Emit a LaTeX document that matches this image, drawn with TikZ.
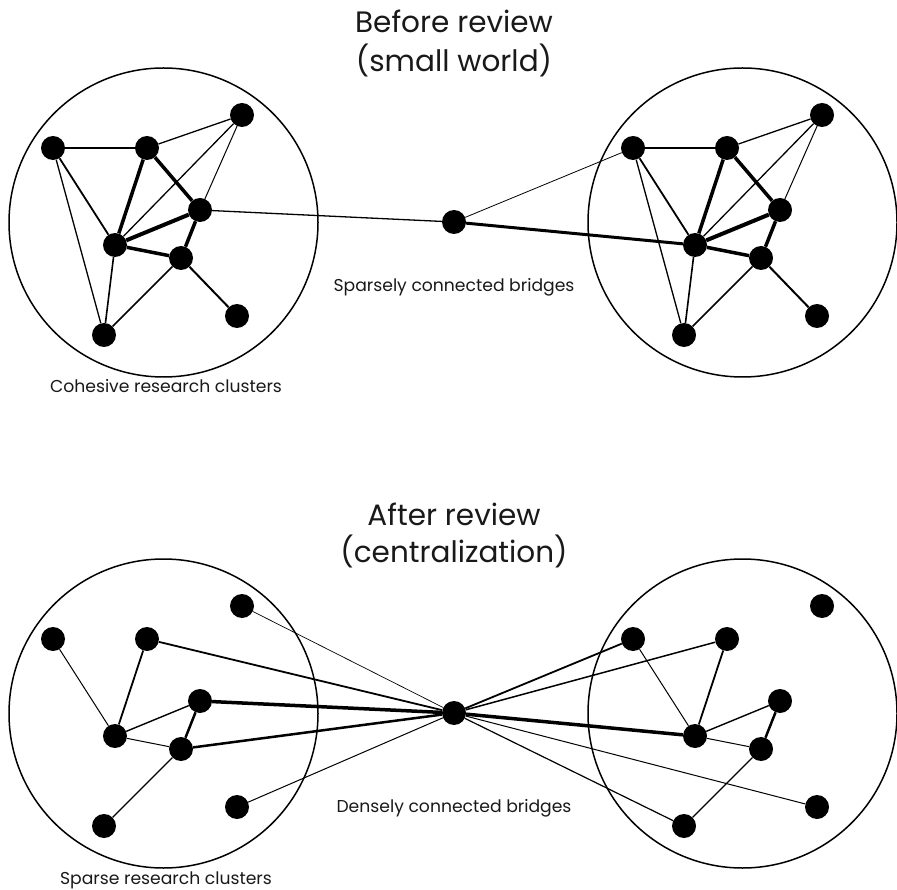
\documentclass[tikz,border=0pt]{standalone}
\usepackage{fontspec}
\setmainfont{Poppins}
\begin{document}
\begin{tikzpicture}[x=1pt,y=-1pt,
  dot/.style={circle,fill=black,inner sep=0pt,minimum size=24pt},
  ring/.style={circle,draw,line width=1.5pt,inner sep=0pt,minimum size=309pt},
  title/.style={anchor=base,text=black!90,font=\fontsize{29.5}{34}\selectfont},
  caption/.style={anchor=base,text=black!90,font=\fontsize{17.2}{21}\selectfont}]
\useasboundingbox (0,0) rectangle (897,890);

% the four cluster outlines
\node[ring] (TLring) at (163.5,222.5) {};
\node[ring] (TRring) at (742.5,222.5) {};
\node[ring] (BLring) at (163.5,713.5) {};
\node[ring] (BRring) at (742.5,713.5) {};

% bridge hubs
\node[dot] (TM) at (454,222) {};
\node[dot] (BM) at (454,713) {};

% eight members per cluster, same layout in each
\foreach \p/\dx/\dy in {TL/0/0,TR/580/0,BL/0/491,BR/580/491}{
  \begin{scope}[shift={(\dx,\dy)}]
    \node[dot] (\p A) at (53,148) {};
    \node[dot] (\p B) at (147,148) {};
    \node[dot] (\p C) at (242,115) {};
    \node[dot] (\p D) at (200,210) {};
    \node[dot] (\p E) at (115,245) {};
    \node[dot] (\p F) at (181,258) {};
    \node[dot] (\p G) at (237,316) {};
    \node[dot] (\p H) at (104,335) {};
  \end{scope}
}

% cohesive clusters (top)
\foreach \p in {TL,TR}{
  \draw[line width=1.3pt] (\p A) -- (\p B);
  \draw[line width=1.3pt] (\p B) -- (\p C);
  \draw[line width=1.3pt] (\p C) -- (\p E);
  \draw[line width=1pt]   (\p C) -- (\p D);
  \draw[line width=1.8pt] (\p A) -- (\p E);
  \draw[line width=1.3pt] (\p A) -- (\p H);
  \draw[line width=3.5pt] (\p B) -- (\p E);
  \draw[line width=3.5pt] (\p B) -- (\p D);
  \draw[line width=4pt]   (\p E) -- (\p D);
  \draw[line width=3.5pt] (\p E) -- (\p F);
  \draw[line width=3.5pt] (\p D) -- (\p F);
  \draw[line width=1.6pt] (\p E) -- (\p H);
  \draw[line width=1.6pt] (\p F) -- (\p H);
  \draw[line width=2pt]   (\p F) -- (\p G);
}
\draw[line width=1.3pt] (TLD) -- (TM);
\draw[line width=0.8pt] (TRA) -- (TM);
\draw[line width=3pt]   (TRE) -- (TM);

% sparse clusters (bottom)
\foreach \p in {BL,BR}{
  \draw[line width=1pt]   (\p A) -- (\p E);
  \draw[line width=1.8pt] (\p B) -- (\p E);
  \draw[line width=1.4pt] (\p E) -- (\p D);
  \draw[line width=1pt]   (\p E) -- (\p F);
  \draw[line width=2.5pt] (\p D) -- (\p F);
  \draw[line width=1.2pt] (\p F) -- (\p H);
}
\draw[line width=0.7pt] (BLC) -- (BM);
\draw[line width=1.8pt] (BLB) -- (BM);
\draw[line width=3.5pt] (BLD) -- (BM);
\draw[line width=2.5pt] (BLF) -- (BM);
\draw[line width=1pt]   (BLG) -- (BM);
\draw[line width=1.8pt] (BRA) -- (BM);
\draw[line width=1.5pt] (BRB) -- (BM);
\draw[line width=3.5pt] (BRE) -- (BM);
\draw[line width=1pt]   (BRG) -- (BM);
\draw[line width=1.2pt] (BRH) -- (BM);

% headings and captions
\node[title]   (t1) at (454,33)  {Before review};
\node[title]   (t2) at (454,72)  {(small world)};
\node[caption] (c1) at (454,292) {Sparsely connected bridges};
\node[caption] (c2) at (166,393) {Cohesive research clusters};
\node[title]   (t3) at (454,525) {After review};
\node[title]   (t4) at (454,562) {(centralization)};
\node[caption] (c3) at (454,812) {Densely connected bridges};
\node[caption] (c4) at (166,884) {Sparse research clusters};
\end{tikzpicture}
\end{document}
